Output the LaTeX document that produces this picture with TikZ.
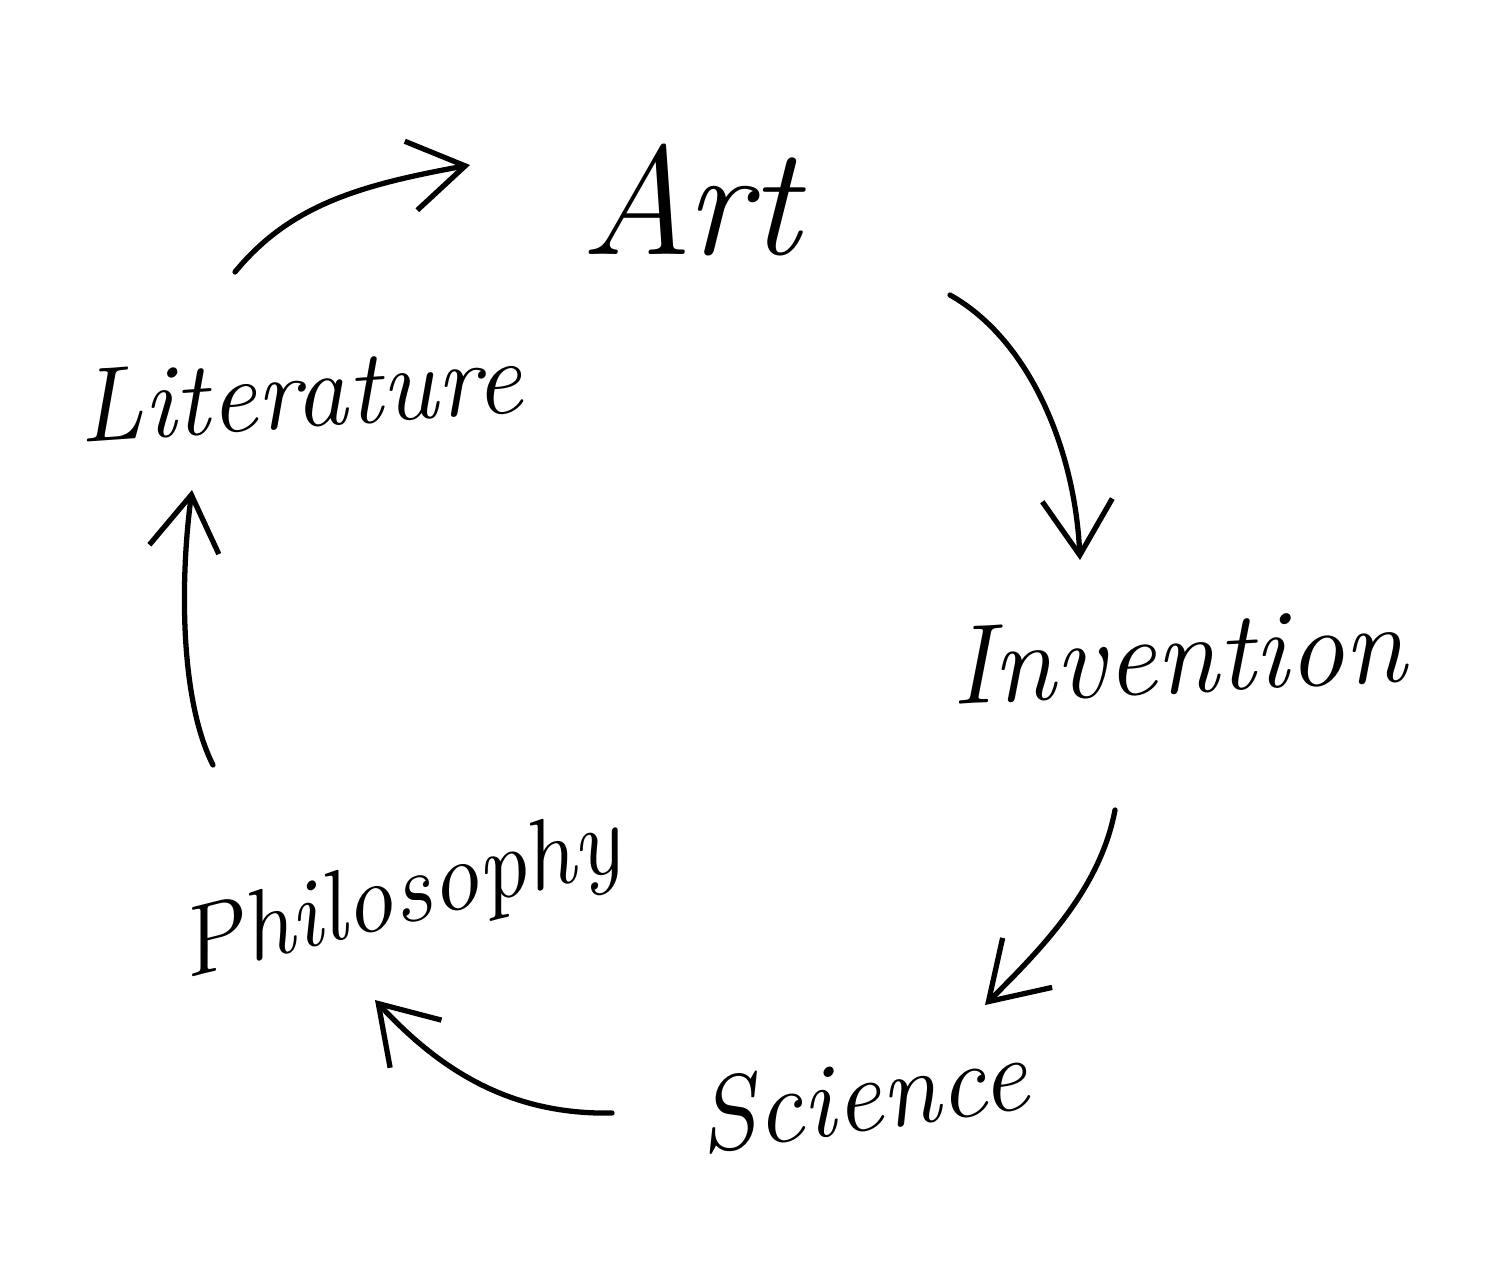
\documentclass[tikz,border=0pt]{standalone}
\usetikzlibrary{arrows.meta}
\begin{document}
\begin{tikzpicture}[x=0.01cm,y=-0.01cm,
  word/.style={font=\itshape},
  flow/.style={line width=1.5pt,line cap=round,-{Straight Barb[length=5.5mm,width=7mm,line width=1.5pt]}}]
\useasboundingbox[fill=white] (0,0) rectangle (1507,1272);
\node[word,font=\fontsize{44}{50}\selectfont\itshape] (art) at (690,200) {Art};
\node[word,font=\fontsize{32}{36}\selectfont\itshape,rotate=3] (inv) at (1178,655) {Invention};
\node[word,font=\fontsize{30}{34}\selectfont\itshape,rotate=8] (sci) at (862,1095) {Science};
\node[word,font=\fontsize{28}{32}\selectfont\itshape,rotate=14] (phi) at (400,900) {Philosophy};
\node[word,font=\fontsize{30}{34}\selectfont\itshape,rotate=4] (lit) at (300,392) {Literature};
\coordinate (a1) at (235,272); \coordinate (a2) at (470,165);
\coordinate (b1) at (950,295); \coordinate (b2) at (1080,560);
\coordinate (c1) at (1115,810); \coordinate (c2) at (985,1005);
\coordinate (d1) at (612,1113); \coordinate (d2) at (375,1000);
\coordinate (e1) at (213,765); \coordinate (e2) at (192,490);
\draw[flow] (a1) .. controls (290,205) and (360,185) .. (a2);
\draw[flow] (b1) .. controls (1030,340) and (1075,450) .. (b2);
\draw[flow] (c1) .. controls (1100,890) and (1040,950) .. (c2);
\draw[flow] (d1) .. controls (510,1115) and (440,1070) .. (d2);
\draw[flow] (e1) .. controls (180,700) and (180,580) .. (e2);
\end{tikzpicture}
\end{document}
